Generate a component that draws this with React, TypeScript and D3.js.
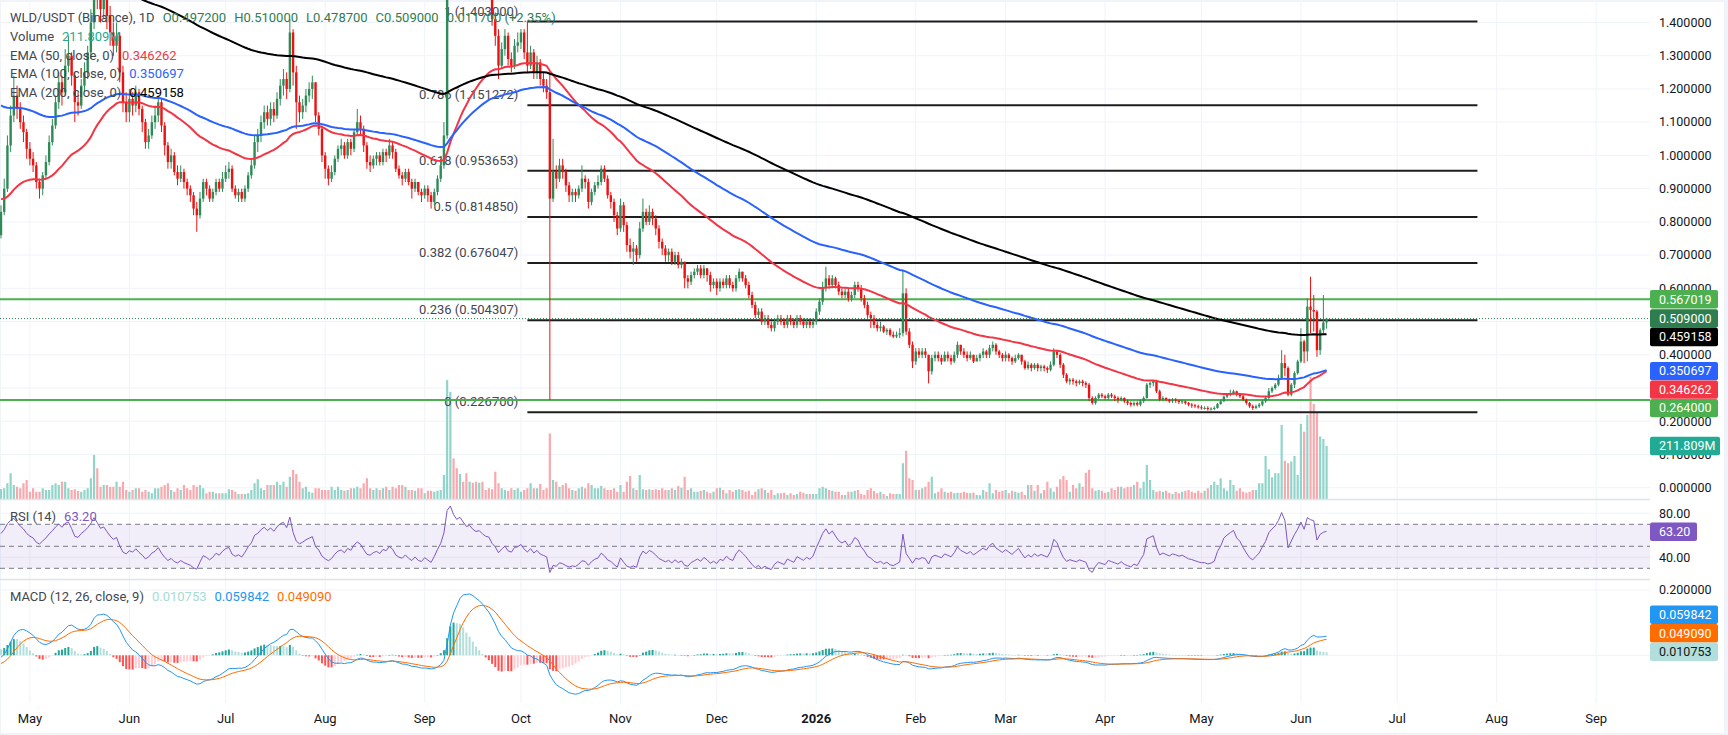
import React from 'react';
import * as d3 from 'd3';

// ---------------- DATA ----------------
// each bar: [high, low, close, volume in millions]; open = previous close
type Bar = [number, number, number, number];

const START_DATE = '2025-04-22';
const START_OPEN = 0.76;

const apr2025: Bar[] = [
  [0.85,0.75,0.83,40],[0.93,0.82,0.90,43],[1.06,0.89,1.03,63],[1.15,1.01,1.12,103],[1.24,1.10,1.18,56],
  [1.21,1.11,1.14,49],[1.16,1.08,1.10,43],[1.12,1.04,1.07,63],[1.08,0.99,1.02,76],
];
const may2025: Bar[] = [
  [1.04,0.97,0.99,29],[1.01,0.95,0.97,43],[0.98,0.90,0.92,29],[0.93,0.87,0.90,29],[0.95,0.88,0.94,43],
  [1.00,0.93,0.98,36],[1.06,0.97,1.04,36],[1.11,1.03,1.09,56],[1.18,1.08,1.16,63],[1.25,1.14,1.22,56],
  [1.24,1.15,1.19,69],[1.32,1.18,1.27,69],[1.36,1.25,1.30,43],[1.31,1.21,1.24,36],[1.25,1.10,1.16,39],
  [1.19,1.12,1.15,32],[1.23,1.14,1.21,29],[1.28,1.19,1.25,36],[1.33,1.23,1.31,43],[1.44,1.29,1.40,83],
  [1.62,1.38,1.55,176],[1.60,1.44,1.50,123],[1.53,1.40,1.44,49],[1.52,1.41,1.47,56],[1.49,1.38,1.42,56],
  [1.45,1.33,1.37,49],[1.40,1.30,1.33,49],[1.40,1.31,1.36,69],[1.37,1.22,1.25,49],[1.27,1.13,1.16,69],
  [1.19,1.10,1.13,36],
];
const jun2025: Bar[] = [
  [1.20,1.10,1.17,29],[1.19,1.12,1.15,36],[1.21,1.13,1.19,43],[1.20,1.12,1.14,43],[1.15,1.07,1.10,29],
  [1.11,1.02,1.04,36],[1.08,1.02,1.06,29],[1.12,1.05,1.10,23],[1.15,1.08,1.12,43],[1.18,1.10,1.16,43],
  [1.17,1.07,1.09,49],[1.10,1.00,1.03,56],[1.04,0.96,0.98,63],[1.02,0.96,1.00,36],[1.01,0.94,0.95,29],
  [0.97,0.91,0.93,43],[0.97,0.92,0.95,36],[0.96,0.90,0.92,56],[0.93,0.88,0.90,43],[0.91,0.86,0.88,36],
  [0.89,0.82,0.84,56],[0.86,0.77,0.82,49],[0.89,0.81,0.87,56],[0.93,0.86,0.92,43],[0.93,0.88,0.90,23],
  [0.91,0.86,0.87,29],[0.90,0.86,0.89,29],[0.93,0.88,0.92,23],[0.93,0.89,0.90,23],[0.95,0.89,0.93,23],
];
const jul2025: Bar[] = [
  [0.97,0.92,0.95,23],[0.98,0.93,0.96,39],[0.97,0.89,0.90,36],[0.91,0.87,0.88,29],[0.90,0.86,0.89,20],
  [0.90,0.86,0.87,20],[0.91,0.86,0.90,20],[0.95,0.89,0.94,23],[0.99,0.93,0.97,36],[1.06,0.96,1.04,63],
  [1.08,1.01,1.06,79],[1.12,1.04,1.10,43],[1.15,1.08,1.13,36],[1.15,1.09,1.11,56],[1.16,1.09,1.14,56],
  [1.16,1.10,1.12,56],[1.19,1.11,1.17,69],[1.23,1.15,1.21,56],[1.26,1.18,1.23,69],[1.25,1.17,1.20,49],
  [1.41,1.19,1.37,89],[1.38,1.21,1.25,116],[1.27,1.08,1.16,100],[1.18,1.10,1.13,69],[1.17,1.11,1.15,43],
  [1.20,1.13,1.18,49],[1.22,1.16,1.20,29],[1.24,1.17,1.22,25],[1.22,1.10,1.12,43],[1.13,1.06,1.08,43],
  [1.09,0.98,1.00,36],
];
const aug2025: Bar[] = [
  [1.01,0.93,0.96,36],[0.97,0.91,0.93,36],[0.97,0.92,0.95,49],[1.00,0.94,0.99,36],[1.03,0.98,1.02,49],
  [1.05,1.00,1.03,36],[1.04,0.99,1.00,33],[1.05,0.99,1.04,36],[1.05,1.00,1.02,43],[1.08,1.01,1.07,43],
  [1.14,1.06,1.10,49],[1.12,1.06,1.08,43],[1.09,1.01,1.03,63],[1.04,0.96,0.98,83],[1.00,0.95,0.97,43],
  [1.00,0.96,0.99,36],[1.01,0.97,1.00,43],[1.01,0.97,0.98,36],[1.02,0.97,1.01,43],[1.02,0.98,1.00,49],
  [1.05,0.99,1.03,36],[1.04,0.99,1.01,49],[1.02,0.95,0.96,43],[0.97,0.93,0.94,56],[0.95,0.91,0.93,56],
  [0.96,0.92,0.95,49],[0.96,0.91,0.92,36],[0.93,0.87,0.90,36],[0.93,0.89,0.92,33],[0.92,0.88,0.89,43],
  [0.90,0.86,0.88,43],
];
const sep2025: Bar[] = [
  [0.91,0.87,0.90,23],[0.91,0.86,0.88,33],[0.89,0.84,0.86,33],[0.90,0.85,0.89,29],[0.94,0.88,0.93,33],
  [0.99,0.92,0.97,36],[1.10,0.96,1.06,96],[1.65,1.05,1.55,475],[2.10,1.50,1.80,428],[1.90,1.62,1.70,162],
  [1.78,1.58,1.64,123],[1.80,1.62,1.72,100],[1.76,1.60,1.66,69],[1.70,1.56,1.60,103],[1.68,1.57,1.63,69],
  [1.66,1.54,1.58,65],[1.62,1.52,1.55,69],[1.61,1.52,1.57,65],[1.59,1.50,1.53,69],[1.56,1.48,1.50,36],
  [1.53,1.47,1.49,43],[1.50,1.39,1.41,39],[1.43,1.33,1.36,109],[1.38,1.23,1.27,63],[1.34,1.26,1.32,43],
  [1.38,1.30,1.36,36],[1.37,1.27,1.29,33],[1.31,1.25,1.27,43],[1.35,1.26,1.33,36],[1.37,1.31,1.34,43],
];
const oct2025: Bar[] = [
  [1.38,1.32,1.37,29],[1.38,1.29,1.31,36],[1.403,1.25,1.27,43],[1.33,1.26,1.31,63],[1.32,1.23,1.25,43],
  [1.30,1.23,1.28,43],[1.29,1.21,1.23,60],[1.25,1.19,1.21,36],[1.23,1.17,1.19,43],[1.25,0.264,0.87,262],
  [1.05,0.86,0.95,76],[0.97,0.90,0.93,69],[0.99,0.92,0.97,49],[0.99,0.93,0.95,56],[0.96,0.89,0.91,63],
  [0.92,0.86,0.88,43],[0.90,0.86,0.89,36],[0.90,0.86,0.88,33],[0.91,0.87,0.90,43],[0.97,0.89,0.93,49],
  [0.94,0.90,0.92,43],[0.93,0.84,0.86,63],[0.90,0.85,0.89,56],[0.92,0.88,0.91,43],[0.94,0.90,0.92,43],
  [0.97,0.91,0.96,52],[0.97,0.92,0.93,43],[0.94,0.87,0.88,36],[0.89,0.84,0.86,36],[0.87,0.80,0.82,43],
  [0.83,0.76,0.78,29],
];
const nov2025: Bar[] = [
  [0.87,0.77,0.85,56],[0.86,0.77,0.79,29],[0.80,0.71,0.73,69],[0.75,0.69,0.71,92],[0.74,0.67,0.72,43],
  [0.73,0.68,0.70,36],[0.80,0.69,0.78,96],[0.87,0.77,0.83,39],[0.84,0.79,0.80,36],[0.85,0.79,0.83,39],
  [0.84,0.79,0.81,36],[0.82,0.76,0.78,39],[0.79,0.72,0.74,36],[0.75,0.70,0.72,43],[0.73,0.68,0.70,36],
  [0.72,0.68,0.71,36],[0.72,0.67,0.68,43],[0.71,0.67,0.70,36],[0.71,0.66,0.67,52],[0.69,0.66,0.68,45],
  [0.68,0.60,0.63,89],[0.64,0.60,0.62,36],[0.65,0.61,0.64,43],[0.66,0.63,0.65,29],[0.67,0.64,0.66,29],
  [0.67,0.63,0.64,33],[0.67,0.63,0.66,36],[0.66,0.62,0.64,29],[0.65,0.59,0.61,23],[0.63,0.60,0.62,29],
];
const dec2025: Bar[] = [
  [0.63,0.58,0.60,43],[0.63,0.59,0.62,45],[0.63,0.60,0.61,36],[0.64,0.60,0.63,23],[0.64,0.60,0.61,36],
  [0.62,0.59,0.60,29],[0.64,0.59,0.63,36],[0.66,0.62,0.65,39],[0.65,0.62,0.63,36],[0.64,0.60,0.61,29],
  [0.62,0.57,0.58,33],[0.59,0.54,0.55,16],[0.56,0.51,0.52,29],[0.54,0.51,0.53,39],[0.54,0.49,0.50,43],
  [0.52,0.49,0.51,36],[0.52,0.48,0.49,25],[0.50,0.47,0.48,36],[0.51,0.47,0.50,16],[0.52,0.49,0.51,23],
  [0.52,0.49,0.50,23],[0.51,0.48,0.49,25],[0.52,0.48,0.51,16],[0.52,0.49,0.50,23],[0.51,0.48,0.49,16],
  [0.52,0.48,0.51,20],[0.52,0.49,0.50,29],[0.51,0.48,0.49,25],[0.51,0.48,0.50,20],[0.51,0.48,0.49,20],
  [0.51,0.48,0.50,20],
];
const jan2026: Bar[] = [
  [0.54,0.49,0.53,20],[0.57,0.52,0.56,43],[0.62,0.55,0.60,49],[0.665,0.59,0.63,43],[0.64,0.60,0.61,36],
  [0.64,0.60,0.63,33],[0.635,0.60,0.61,29],[0.62,0.58,0.59,29],[0.60,0.57,0.58,16],[0.60,0.57,0.59,16],
  [0.60,0.56,0.57,29],[0.59,0.56,0.58,29],[0.62,0.57,0.61,33],[0.62,0.59,0.60,36],[0.61,0.56,0.57,20],
  [0.58,0.54,0.55,17],[0.56,0.51,0.52,36],[0.53,0.48,0.51,43],[0.52,0.48,0.49,32],[0.50,0.47,0.48,23],
  [0.50,0.47,0.485,29],[0.49,0.465,0.47,20],[0.48,0.46,0.475,12],[0.48,0.455,0.46,23],[0.47,0.45,0.455,20],
  [0.47,0.45,0.46,20],[0.48,0.45,0.465,20],[0.655,0.455,0.585,143],[0.60,0.46,0.47,193],[0.48,0.42,0.43,83],
  [0.44,0.36,0.38,76],
];
const feb2026: Bar[] = [
  [0.42,0.37,0.41,36],[0.42,0.39,0.40,36],[0.42,0.39,0.41,43],[0.42,0.39,0.40,49],[0.40,0.314,0.35,69],
  [0.40,0.34,0.39,89],[0.41,0.38,0.40,23],[0.41,0.38,0.39,29],[0.40,0.37,0.38,43],[0.41,0.38,0.40,29],
  [0.41,0.38,0.39,25],[0.40,0.37,0.38,29],[0.41,0.375,0.40,23],[0.44,0.39,0.43,25],[0.43,0.40,0.41,25],
  [0.42,0.39,0.40,29],[0.41,0.38,0.39,25],[0.41,0.385,0.40,23],[0.40,0.375,0.38,25],[0.40,0.38,0.39,16],
  [0.405,0.38,0.40,15],[0.42,0.39,0.41,36],[0.415,0.39,0.40,29],[0.43,0.39,0.42,63],[0.44,0.41,0.43,23],
  [0.435,0.40,0.41,36],[0.415,0.39,0.40,29],[0.405,0.38,0.39,33],
];
const mar2026: Bar[] = [
  [0.41,0.38,0.40,36],[0.405,0.38,0.39,23],[0.395,0.37,0.38,33],[0.40,0.375,0.39,29],[0.405,0.385,0.40,25],
  [0.40,0.37,0.38,29],[0.385,0.355,0.36,16],[0.38,0.355,0.37,56],[0.375,0.35,0.36,56],[0.375,0.355,0.37,33],
  [0.375,0.35,0.36,56],[0.37,0.35,0.365,23],[0.37,0.35,0.36,36],[0.365,0.345,0.355,69],[0.38,0.35,0.37,43],
  [0.42,0.365,0.41,29],[0.415,0.39,0.40,49],[0.405,0.36,0.37,79],[0.375,0.33,0.34,92],[0.345,0.315,0.32,76],
  [0.33,0.31,0.325,29],[0.33,0.31,0.32,56],[0.325,0.305,0.315,43],[0.325,0.31,0.32,63],[0.325,0.305,0.315,49],
  [0.32,0.30,0.31,105],[0.315,0.26,0.27,116],[0.275,0.25,0.255,43],[0.275,0.25,0.27,33],[0.285,0.265,0.28,36],
  [0.285,0.27,0.275,33],
];
const apr2026: Bar[] = [
  [0.28,0.265,0.27,25],[0.285,0.265,0.28,29],[0.285,0.27,0.275,43],[0.28,0.26,0.27,36],[0.275,0.255,0.265,49],
  [0.275,0.26,0.27,49],[0.272,0.255,0.26,43],[0.265,0.248,0.255,49],[0.26,0.244,0.25,49],[0.26,0.245,0.255,56],
  [0.26,0.245,0.25,69],[0.265,0.245,0.26,43],[0.275,0.255,0.27,69],[0.315,0.268,0.31,136],[0.32,0.30,0.315,76],
  [0.325,0.305,0.32,36],[0.325,0.285,0.29,29],[0.295,0.26,0.265,33],[0.275,0.26,0.27,29],[0.272,0.26,0.265,33],
  [0.268,0.255,0.26,25],[0.27,0.255,0.265,20],[0.27,0.255,0.262,29],[0.265,0.252,0.258,23],[0.265,0.252,0.26,29],
  [0.262,0.25,0.255,33],[0.258,0.245,0.25,36],[0.255,0.24,0.248,29],[0.252,0.24,0.245,25],[0.25,0.238,0.242,33],
];
const may2026: Bar[] = [
  [0.248,0.235,0.24,25],[0.245,0.235,0.24,33],[0.245,0.232,0.237,43],[0.242,0.232,0.238,56],[0.245,0.233,0.24,69],
  [0.255,0.238,0.252,56],[0.265,0.25,0.26,83],[0.278,0.258,0.274,43],[0.285,0.27,0.28,33],[0.295,0.275,0.285,76],
  [0.295,0.28,0.29,56],[0.292,0.275,0.28,33],[0.285,0.27,0.275,43],[0.28,0.26,0.265,29],[0.268,0.25,0.255,25],
  [0.258,0.24,0.245,29],[0.25,0.234,0.24,36],[0.25,0.236,0.245,36],[0.255,0.24,0.25,63],[0.265,0.245,0.26,63],
  [0.275,0.255,0.27,172],[0.30,0.265,0.29,119],[0.305,0.285,0.30,87],[0.315,0.295,0.31,103],[0.34,0.305,0.33,103],
  [0.414,0.325,0.375,296],[0.40,0.335,0.36,153],[0.365,0.275,0.28,143],[0.315,0.275,0.31,150],[0.35,0.30,0.345,172],
  [0.385,0.34,0.38,96],
];
const jun2026: Bar[] = [
  [0.48,0.375,0.44,300],[0.445,0.375,0.41,269],[0.57,0.38,0.545,336],[0.635,0.465,0.535,489],[0.58,0.47,0.53,380],
  [0.535,0.394,0.414,345],[0.48,0.40,0.474,250],[0.58,0.46,0.4972,240],[0.51,0.4787,0.509,211.809],
];

// indicator states at the left edge of the chart
const EMA_SEEDS = [0.87, 1.157, 1.63]; // 50, 100, 200
const EMA_LENGTHS = [50, 100, 200];
const RSI_SEED = [0.03, 0.022];
const MACD_SEED = [0.79, 0.80, -0.03];

// legend / labels
const legendTitle = 'WLD/USDT (Binance), 1D';
const legendOHLC = ['O0.497200', 'H0.510000', 'L0.478700', 'C0.509000', '0.011700 (+2.35%)'];
const volumeLabel = '211.809M';
const emaLabels = ['EMA (50, close, 0)', 'EMA (100, close, 0)', 'EMA (200, close, 0)'];
const emaValues = [0.346262, 0.350697, 0.459158];
const rsiValue = 63.2;
const macdValues = [0.010753, 0.059842, 0.049090]; // hist, macd, signal
const lastPrice = 0.509;
const volumeLast = 211.809;

const fibRatios = ['1', '0.786', '0.618', '0.5', '0.382', '0.236', '0'];
const fibPrices = [1.403, 1.151272, 0.953653, 0.81485, 0.676047, 0.504307, 0.2267];
const fibStartDate = '2025-10-03';
const fibEndDate = '2026-07-26';
const supportLines = [0.567019, 0.264];

const priceTicks = [0, 0.1, 0.2, 0.3, 0.4, 0.5, 0.6, 0.7, 0.8, 0.9, 1.0, 1.1, 1.2, 1.3, 1.4];
const rsiTicks = [80, 40];
const rsiBands = [70, 50, 30];
const macdTicks = [0.2, 0];

// ---------------- STYLE ----------------
const W = 1728, H = 735;
const PLOT_R = 1650;
const FONT = 'Roboto, "Liberation Sans", Arial, sans-serif';
const UP = '#2e8b57';
const DOWN = '#ee1111';
const VOL_UP = '#91d5ca';
const VOL_DOWN = '#f9a9ae';
const EMA_COLORS = ['#f23645', '#2962ff', '#000000'];
const GRID = '#f0f3fa';
const TEXT = '#131722';
const LEGEND = '#434651';

const DAY = 86400000;
const parse = (s: string) => new Date(s + 'T00:00:00Z');

function pushDown(ys: number[], gap: number) {
  const idx = ys.map((y, i) => i).sort((a, b) => ys[a] - ys[b]);
  const out = ys.slice();
  let last = -Infinity;
  idx.forEach((i) => { out[i] = Math.max(ys[i], last + gap); last = out[i]; });
  return out;
}
function pushUp(ys: number[], gap: number) {
  const idx = ys.map((y, i) => i).sort((a, b) => ys[b] - ys[a]);
  const out = ys.slice();
  let last = Infinity;
  idx.forEach((i) => { out[i] = Math.min(ys[i], last - gap); last = out[i]; });
  return out;
}

export default function App() {
  const t0 = parse(START_DATE).getTime();
  const raw = [apr2025, may2025, jun2025, jul2025, aug2025, sep2025, oct2025, nov2025, dec2025,
    jan2026, feb2026, mar2026, apr2026, may2026, jun2026].flat();
  const bars = raw.map((b, i) => ({
    date: new Date(t0 + i * DAY), open: i === 0 ? START_OPEN : raw[i - 1][2],
    high: b[0], low: b[1], close: b[2], vol: b[3],
  }));

  // indicators
  const emas = EMA_LENGTHS.map((n, k) => {
    let e = EMA_SEEDS[k]; const a = 2 / (n + 1);
    return bars.map((b) => { e = e + (b.close - e) * a; return e; });
  });
  let ag = RSI_SEED[0], al = RSI_SEED[1];
  const rsi = bars.map((b) => {
    const ch = b.close - b.open;
    ag = (ag * 13 + Math.max(ch, 0)) / 14; al = (al * 13 + Math.max(-ch, 0)) / 14;
    return 100 - 100 / (1 + ag / al);
  });
  let e12 = MACD_SEED[0], e26 = MACD_SEED[1], sig = MACD_SEED[2];
  const macd = bars.map((b) => {
    e12 += (b.close - e12) * 2 / 13; e26 += (b.close - e26) * 2 / 27;
    const m = e12 - e26; sig += (m - sig) * 2 / 10;
    return { m, s: sig, h: m - sig };
  });

  // scales
  const x = d3.scaleUtc().domain([parse(START_DATE), parse('2026-09-01')]).range([1, 1596.2]);
  const y = d3.scaleLinear().domain([0, 1.4]).range([487.7, 22.5]);
  const yv = d3.scaleLinear().domain([0, volumeLast]).range([499, 446]);
  const yr = d3.scaleLinear().domain([30, 80]).range([568.3, 513.3]);
  const ym = d3.scaleLinear().domain([0, 0.2]).range([655.3, 590]);

  const months = d3.utcMonth.range(parse('2025-05-01'), parse('2026-09-02'));
  const fmtMonth = d3.utcFormat('%b');

  const emaLine = (arr: number[]) => d3.line<number>().x((_, i) => x(bars[i].date)).y((v) => y(v))(arr) || '';
  const rsiLine = d3.line<number>().x((_, i) => x(bars[i].date)).y((v) => yr(v))(rsi) || '';
  const macdLine = d3.line<any>().x((_, i) => x(bars[i].date)).y((d) => ym(d.m))(macd) || '';
  const sigLine = d3.line<any>().x((_, i) => x(bars[i].date)).y((d) => ym(d.s))(macd) || '';

  // price-axis badges
  const badgeDefs = [
    { text: supportLines[0].toFixed(6), bg: '#4caf50', fg: '#fff', y: y(supportLines[0]) },
    { text: lastPrice.toFixed(6), bg: '#2e7d4f', fg: '#fff', y: y(lastPrice) },
    { text: emaValues[2].toFixed(6), bg: '#000', fg: '#fff', y: y(emaValues[2]) },
    { text: emaValues[1].toFixed(6), bg: '#2962ff', fg: '#fff', y: y(emaValues[1]) },
    { text: emaValues[0].toFixed(6), bg: '#f23645', fg: '#fff', y: y(emaValues[0]) },
    { text: supportLines[1].toFixed(6), bg: '#4caf50', fg: '#fff', y: y(supportLines[1]) },
    { text: volumeLabel, bg: '#22ab94', fg: '#fff', y: yv(volumeLast) },
  ];
  const by = pushDown(badgeDefs.map((b) => b.y), 18.5);
  const macdBadges = [
    { text: macdValues[1].toFixed(6), bg: '#2196f3', fg: '#fff', y: ym(macdValues[1]) },
    { text: macdValues[2].toFixed(6), bg: '#ff6d00', fg: '#fff', y: ym(macdValues[2]) },
    { text: macdValues[0].toFixed(6), bg: '#b2dfdb', fg: TEXT, y: ym(macdValues[0]) },
  ];
  const mby = pushUp(macdBadges.map((b) => b.y), 18.5);

  const fx1 = x(parse(fibStartDate)), fx2 = x(parse(fibEndDate));
  const bw = 2.4;

  const badge = (key: string, yc: number, text: string, bg: string, fg: string, w = 68) => (
    <g key={key}>
      <rect x={PLOT_R} y={yc - 9.2} width={w} height={18.4} rx={2} fill={bg} />
      <text x={PLOT_R + 9} y={yc + 4.3} fontSize={12.5} fill={fg} fontFamily={FONT}>{text}</text>
    </g>
  );

  return (
    <svg width={W} height={H} style={{ position: 'fixed', left: 0, top: 0, display: 'block' }} fontFamily={FONT}>
      <defs>
        <clipPath id="cp"><rect x={0} y={0} width={PLOT_R} height={499} /></clipPath>
        <clipPath id="cr"><rect x={0} y={500} width={PLOT_R} height={79} /></clipPath>
        <clipPath id="cm"><rect x={0} y={580} width={PLOT_R} height={123} /></clipPath>
      </defs>
      <rect x={0} y={0} width={W} height={H} fill="#f0f3fa" />
      <rect x={1} y={2} width={1723} height={731} fill="#ffffff" />

      {/* grid */}
      {months.map((m) => (
        <line key={'vg' + m.getTime()} x1={x(m)} x2={x(m)} y1={2} y2={703} stroke={GRID} strokeWidth={1} />
      ))}
      {priceTicks.map((t) => (
        <line key={'hg' + t} x1={0} x2={PLOT_R} y1={y(t)} y2={y(t)} stroke={GRID} strokeWidth={1} />
      ))}
      {rsiTicks.map((t) => (
        <line key={'rg' + t} x1={0} x2={PLOT_R} y1={yr(t)} y2={yr(t)} stroke={GRID} strokeWidth={1} />
      ))}
      {macdTicks.map((t) => (
        <line key={'mg' + t} x1={0} x2={PLOT_R} y1={ym(t)} y2={ym(t)} stroke={GRID} strokeWidth={1} />
      ))}

      {/* volume */}
      <g clipPath="url(#cp)">
        {bars.map((b, i) => (
          <rect key={'v' + i} x={x(b.date) - 1.1} width={2.2} y={yv(b.vol)} height={499 - yv(b.vol)}
            fill={b.close >= b.open ? VOL_UP : VOL_DOWN} />
        ))}
      </g>

      {/* fib */}
      <g>
        {fibPrices.map((p, k) => (
          <g key={'fib' + k}>
            <line x1={fx1} x2={fx2} y1={y(p)} y2={y(p)} stroke="#1e1e1e" strokeWidth={2} />
            <text x={fx1 - 9} y={y(p) - 6} textAnchor="end" fontSize={13} fill={LEGEND}>
              {fibRatios[k]} ({p.toFixed(6)})
            </text>
          </g>
        ))}
      </g>
      {supportLines.map((p) => (
        <line key={'sl' + p} x1={0} x2={PLOT_R} y1={y(p)} y2={y(p)} stroke="#4caf50" strokeWidth={2} />
      ))}

      {/* candles */}
      <g clipPath="url(#cp)">
        {bars.map((b, i) => {
          const cx = x(b.date);
          const col = b.close >= b.open ? UP : DOWN;
          const yo = y(b.open), yc = y(b.close);
          return (
            <g key={'c' + i}>
              <line x1={cx} x2={cx} y1={y(b.high)} y2={y(b.low)} stroke={col} strokeWidth={1} />
              <rect x={cx - bw / 2} width={bw} y={Math.min(yo, yc)} height={Math.max(1, Math.abs(yo - yc))} fill={col} />
            </g>
          );
        })}
        {emas.map((arr, k) => (
          <path key={'ema' + k} d={emaLine(arr)} fill="none" stroke={EMA_COLORS[k]} strokeWidth={2} />
        ))}
      </g>
      <line x1={0} x2={PLOT_R} y1={y(lastPrice)} y2={y(lastPrice)} stroke="#2e7d4f" strokeWidth={1} strokeDasharray="1 2" />

      {/* pane separators */}
      <line x1={0} x2={1724} y1={499.5} y2={499.5} stroke="#e0e3eb" strokeWidth={1.5} />
      <line x1={0} x2={1724} y1={579.5} y2={579.5} stroke="#e0e3eb" strokeWidth={1.5} />

      {/* RSI */}
      <rect x={0} y={yr(rsiBands[0])} width={PLOT_R} height={yr(rsiBands[2]) - yr(rsiBands[0])} fill="rgba(126,87,194,0.1)" />
      {rsiBands.map((t) => (
        <line key={'rb' + t} x1={0} x2={PLOT_R} y1={yr(t)} y2={yr(t)} stroke="#787b86" strokeWidth={1} strokeDasharray="5 4" />
      ))}
      <g clipPath="url(#cr)">
        <path d={rsiLine} fill="none" stroke="#7e57c2" strokeWidth={1} />
      </g>

      {/* MACD */}
      <g clipPath="url(#cm)">
        {macd.map((d, i) => {
          const prev = i > 0 ? macd[i - 1].h : d.h;
          const col = d.h >= 0 ? (d.h > prev ? '#26a69a' : '#b2dfdb') : (d.h < prev ? '#ff5252' : '#ffcdd2');
          const y0 = ym(0), y1 = ym(d.h);
          return <rect key={'h' + i} x={x(bars[i].date) - 1} width={2} y={Math.min(y0, y1)} height={Math.max(0.5, Math.abs(y1 - y0))} fill={col} />;
        })}
        <path d={macdLine} fill="none" stroke="#2196f3" strokeWidth={1} />
        <path d={sigLine} fill="none" stroke="#ff6d00" strokeWidth={1} />
      </g>

      {/* price axis */}
      <rect x={PLOT_R} y={2} width={74} height={731} fill="#ffffff" />
      {priceTicks.map((t) => (
        <text key={'pt' + t} x={PLOT_R + 9} y={y(t) + 4.3} fontSize={12.5} fill={TEXT}>{t.toFixed(6)}</text>
      ))}
      {badgeDefs.map((b, k) => badge('b' + k, by[k], b.text, b.bg, b.fg, k === 6 ? 70 : 68))}
      {rsiTicks.map((t) => (
        <text key={'rt' + t} x={PLOT_R + 9} y={yr(t) + 4.3} fontSize={12.5} fill={TEXT}>{t.toFixed(2)}</text>
      ))}
      {badge('rsib', yr(rsiValue), rsiValue.toFixed(2), '#7e57c2', '#fff', 47)}
      {macdTicks.filter((t) => t !== 0).map((t) => (
        <text key={'mt' + t} x={PLOT_R + 9} y={ym(t) + 4.3} fontSize={12.5} fill={TEXT}>{t.toFixed(6)}</text>
      ))}
      {macdBadges.map((b, k) => badge('mb' + k, mby[k], b.text, b.bg, b.fg, 68))}

      {/* time axis */}
      {months.map((m) => {
        const isYear = m.getUTCMonth() === 0;
        return (
          <text key={'tl' + m.getTime()} x={x(m)} y={722.5} textAnchor="middle" fontSize={13}
            fontWeight={isYear ? 700 : 400} fill={TEXT}>
            {isYear ? String(m.getUTCFullYear()) : fmtMonth(m)}
          </text>
        );
      })}

      {/* legends */}
      <text x={10} y={22} fontSize={13} fill={LEGEND}>
        {legendTitle}
        {legendOHLC.map((s, k) => <tspan key={k} dx={8} fill="#2e7d4f">{s}</tspan>)}
      </text>
      <text x={10} y={41} fontSize={13} fill={LEGEND}>Volume<tspan dx={8} fill="#22ab94">{volumeLabel}</tspan></text>
      {emaLabels.map((s, k) => (
        <text key={'el' + k} x={10} y={59.5 + k * 18.5} fontSize={13} fill={LEGEND}>
          {s}<tspan dx={8} fill={EMA_COLORS[k]}>{emaValues[k].toFixed(6)}</tspan>
        </text>
      ))}
      <text x={10} y={521} fontSize={13} fill={LEGEND}>RSI (14)<tspan dx={8} fill="#7e57c2">{rsiValue.toFixed(2)}</tspan></text>
      <text x={10} y={601} fontSize={13} fill={LEGEND}>
        MACD (12, 26, close, 9)
        <tspan dx={8} fill="#a5dcd3">{macdValues[0].toFixed(6)}</tspan>
        <tspan dx={8} fill="#2196f3">{macdValues[1].toFixed(6)}</tspan>
        <tspan dx={8} fill="#ff6d00">{macdValues[2].toFixed(6)}</tspan>
      </text>
    </svg>
  );
}
